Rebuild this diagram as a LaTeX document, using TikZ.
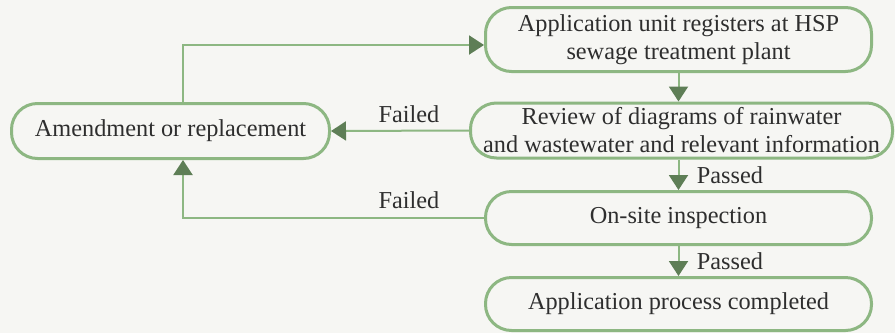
\documentclass[tikz,border=0pt]{standalone}
\usepackage{fontspec}
\setmainfont{Liberation Serif}
\usetikzlibrary{arrows.meta}
\definecolor{bordergreen}{HTML}{8DB782}
\definecolor{linegreen}{HTML}{8DB782}
\definecolor{headgreen}{HTML}{5E7E56}
\definecolor{txt}{HTML}{2E2E2E}
\definecolor{bg}{HTML}{F6F6F3}
\tikzset{
  flowbox/.style={draw=bordergreen, line width=3pt, rectangle, rounded corners=26pt,
    align=center, text=txt, font=\fontsize{24.3}{28}\selectfont, inner sep=0pt},
  conn/.style={draw=linegreen, line width=2pt,
    -{Triangle[length=15pt,width=19pt,color=headgreen]}},
  lbl/.style={text=txt, font=\fontsize{24.3}{28}\selectfont, inner sep=0pt}
}
\begin{document}
\begin{tikzpicture}[x=1pt,y=-1pt]
\fill[bg] (0,0) rectangle (895,333);
\useasboundingbox (0,0) rectangle (895,333);
\node[flowbox, minimum width=386pt, minimum height=64pt] (b1) at (678.5,39.5)
  {Application unit registers at HSP\\sewage treatment plant};
\node[flowbox, minimum width=422pt, minimum height=55pt] (b2) at (681.5,130.5)
  {Review of diagrams of rainwater\\and wastewater and relevant information};
\node[flowbox, minimum width=386pt, minimum height=53pt] (b3) at (678.5,218)
  {On-site inspection};
\node[flowbox, minimum width=386pt, minimum height=53pt] (b4) at (678.5,304)
  {Application process completed};
\node[flowbox, minimum width=318pt, minimum height=55pt] (am) at (170.5,131)
  {Amendment or replacement};
\coordinate (c1) at (183,45);
\coordinate (c2) at (678.5,0);
\draw[conn] (b1.south -| c2) -- (b2.north -| c2);
\draw[conn] (b2.south -| c2) -- (b3.north -| c2);
\draw[conn] (b3.south -| c2) -- (b4.north -| c2);
\draw[conn] (b2.west) -- (am.east);
\draw[conn] (am.north -| c1) |- (b1.west |- c1);
\draw[conn] (b3.west) -| (am.south -| c1);
\node[lbl] (f1) at (409,114) {Failed};
\node[lbl] (f2) at (409,200) {Failed};
\node[lbl] (p1) at (730,175) {Passed};
\node[lbl] (p2) at (730,261) {Passed};
\end{tikzpicture}
\end{document}
